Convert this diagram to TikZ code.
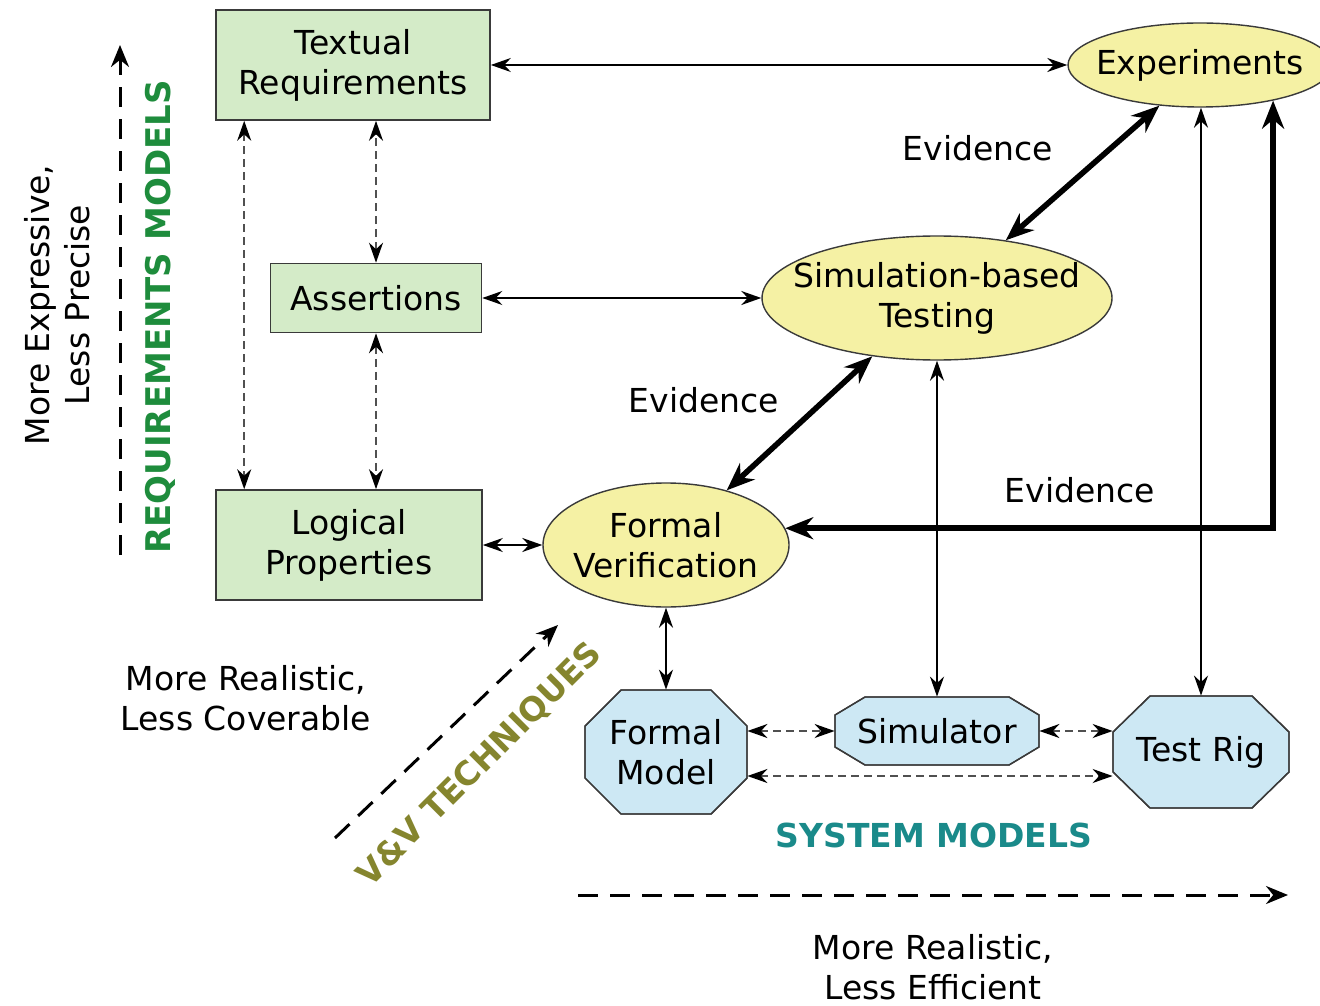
\documentclass[tikz,border=0pt]{standalone}
\usepackage{fontspec}
\setmainfont{DejaVu Sans}
\usetikzlibrary{arrows.meta,calc,shapes.geometric}
\definecolor{boxgreen}{HTML}{D4EBC8}
\definecolor{ellyellow}{HTML}{F5F1A4}
\definecolor{octblue}{HTML}{CDE8F4}
\definecolor{bordergrey}{HTML}{3A3A3A}
\definecolor{reqgreen}{HTML}{1E8C3C}
\definecolor{vvolive}{HTML}{85852E}
\definecolor{systeal}{HTML}{1A8A8A}
\definecolor{dashgrey}{HTML}{505050}
\tikzset{
  every node/.style={font=\fontsize{16.5}{20}\selectfont},
  reqbox/.style={rectangle,draw=bordergrey,line width=0.8pt,fill=boxgreen,align=center,inner sep=0pt},
  vvell/.style={ellipse,draw=bordergrey,line width=0.7pt,fill=ellyellow,inner sep=0pt},
  octa/.style={draw=bordergrey,line width=0.7pt,fill=octblue},
  sysnode/.style={rectangle,draw=none,align=center,inner sep=0pt},
  thin/.style={line width=0.9pt,{Stealth[length=10pt,width=7pt]}-{Stealth[length=10pt,width=7pt]}},
  thick/.style={line width=2.8pt,{Stealth[length=14pt,width=11pt]}-{Stealth[length=14pt,width=11pt]}},
  dsh/.style={draw=dashgrey,line width=1pt,dash pattern=on 4pt off 2.5pt,{Stealth[length=10pt,width=7pt,color=black]}-{Stealth[length=10pt,width=7pt,color=black]}},
  axis/.style={line width=1.5pt,dash pattern=on 10pt off 6pt,-{Stealth[length=11pt,width=9pt]}},
  lbl/.style={align=center,inner sep=0pt},
}
\newcommand{\octagonat}[6]{% cx cy halfw halfh chamferx chamfery (px)
  \fill[octa] (#1-#3+#5,#2-#4) -- (#1+#3-#5,#2-#4) -- (#1+#3,#2-#4+#6) -- (#1+#3,#2+#4-#6)
    -- (#1+#3-#5,#2+#4) -- (#1-#3+#5,#2+#4) -- (#1-#3,#2+#4-#6) -- (#1-#3,#2-#4+#6) -- cycle;
  \draw[octa,fill=none] (#1-#3+#5,#2-#4) -- (#1+#3-#5,#2-#4) -- (#1+#3,#2-#4+#6) -- (#1+#3,#2+#4-#6)
    -- (#1+#3-#5,#2+#4) -- (#1-#3+#5,#2+#4) -- (#1-#3,#2+#4-#6) -- (#1-#3,#2-#4+#6) -- cycle;}
\begin{document}
\begin{tikzpicture}[x=0.5pt,y=-0.5pt]
\useasboundingbox (0,0) rectangle (1320,1005);
\fill[white] (0,0) rectangle (1320,1005);
\clip (0,0) rectangle (1320,1005);

% requirement models
\node[reqbox,minimum width=137pt,minimum height=55pt] (treq) at (353,65) {Textual\\Requirements};
\node[reqbox,minimum width=105.5pt,minimum height=34.5pt] (asrt) at (376,298) {Assertions};
\node[reqbox,minimum width=133pt,minimum height=55pt] (lprop) at (349,545) {Logical\\Properties};

% V&V techniques
\node[vvell,minimum width=132pt,minimum height=42pt,label={[lbl]center:Experiments}] (exp) at (1200,65) {};
\node[vvell,minimum width=175pt,minimum height=62pt,label={[lbl]center:Simulation-based\\Testing}] (sim) at (937,298) {};
\node[vvell,minimum width=123pt,minimum height=62pt,label={[lbl]center:Formal\\Verification}] (fv) at (666,545) {};

% system models
\octagonat{666}{752}{81}{62}{36}{36}
\octagonat{937}{731}{102}{34}{30}{18}
\octagonat{1201}{752}{88}{56}{37}{36}
\node[sysnode,minimum width=81pt,minimum height=62pt] (fm) at (666,752) {Formal\\Model};
\node[sysnode,minimum width=102pt,minimum height=34pt] (simr) at (937,731) {Simulator};
\node[sysnode,minimum width=88pt,minimum height=56pt] (rig) at (1201,752) {Test Rig};

% connectors among requirements
\draw[dsh] ([xshift=14.5pt]treq.south west) -- ([xshift=14.5pt]treq.south west |- lprop.north);
\draw[dsh] (asrt.north) -- (asrt.north |- treq.south);
\draw[dsh] (asrt.south) -- (asrt.south |- lprop.north);

% horizontal links
\draw[thin] (treq.east) -- (exp.west);
\draw[thin] (asrt.east) -- (sim.west);
\draw[thin] (lprop.east) -- (fv.west);

% evidence links
\draw[thick] (sim.40) -- (exp.225);
\draw[thick] (fv.42) -- (sim.222);
\draw[thick] (fv.8) -| (exp.334);

% vertical links to system models
\draw[thin] (sim.south) -- (simr.north);
\draw[thin] (rig.north) -- (rig.north |- exp.south);
\draw[thin] (fv.south) -- (fm.north);

% dashed among system models
\draw[dsh] (simr.west -| fm.east) -- (simr.west);
\draw[dsh] (simr.east) -- (simr.east -| rig.west);
\draw[dsh] ([yshift=-12pt]fm.east) -- ([yshift=-12pt]fm.east -| rig.west);

% evidence labels
\node[lbl] (ev1) at (978,148) {Evidence};
\node[lbl] (ev2) at (704,400) {Evidence};
\node[lbl] (ev3) at (1080,490) {Evidence};

% axes and captions
\coordinate (ayb) at (120,555);
\coordinate (ayt) at (120,45);
\draw[axis] (ayb) -- (ayt);
\node[lbl,rotate=90] (expr) at (57,305) {More Expressive,\\Less Precise};
\node[lbl,rotate=90,text=reqgreen,font=\fontsize{17}{20}\selectfont\bfseries] (reqm) at (160,317) {REQUIREMENTS MODELS};

\coordinate (adb) at (335,838);
\coordinate (adt) at (558,625);
\draw[axis] (adb) -- (adt);
\node[lbl] (cov) at (246,698) {More Realistic,\\Less Coverable};
\node[lbl,rotate=45,text=vvolive,font=\fontsize{16.5}{20}\selectfont\bfseries] (vvt) at (480,765) {V\&V TECHNIQUES};

\coordinate (ahl) at (578,895);
\coordinate (ahr) at (1288,895);
\draw[axis] (ahl) -- (ahr);
\node[lbl,text=systeal,font=\fontsize{16.5}{20}\selectfont\bfseries] (sysm) at (934,835) {SYSTEM MODELS};
\node[lbl] (eff) at (933,967) {More Realistic,\\Less Efficient};
\end{tikzpicture}
\end{document}
